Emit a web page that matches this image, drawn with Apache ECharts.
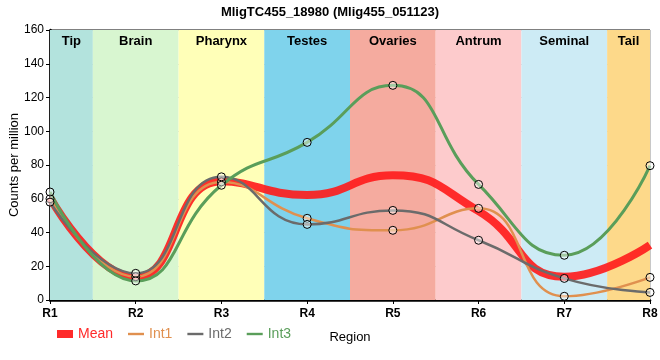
<!DOCTYPE html>
<html><head><meta charset="utf-8">
<script src="https://cdn.jsdelivr.net/npm/echarts@6/dist/echarts.min.js"></script>
<style>html,body{margin:0;padding:0;background:#fff}#c{width:660px;height:360px}</style>
</head><body><div id="c"></div>
<script>
const regions = ['R1','R2','R3','R4','R5','R6','R7','R8'];
const bandNames = ['Tip','Brain','Pharynx','Testes','Ovaries','Antrum','Seminal','Tail'];
const bandColors = ['#b3e3dd','#d8f6d0','#ffffb8','#7fd3ec','#f5ab9f','#fdcbcc','#cdebf5','#fdd98a'];
const int1 = [60, 13.8, 70, 48.4, 41.3, 54.3, 2.2, 13.4];
const int2 = [58, 15.8, 73, 44.8, 53.1, 35.4, 12.8, 4.5];
const int3 = [64, 11.3, 68, 93.4, 127.2, 68.5, 26.5, 79.6];
const meanVals = [60.7, 13.6, 70.3, 62.2, 73.9, 52.7, 13.8, 32.5];
const yTicks = [0,20,40,60,80,100,120,140,160];

const toXY = arr => arr.map((v,i)=>[i+1, v]);
const bands = bandNames.map((n,i)=>[
  {name:n, xAxis: Math.max(1, i+0.5), itemStyle:{color:bandColors[i]}},
  {xAxis: Math.min(8, i+1.5)}
]);
const FONT = 'Liberation Sans, Arial';
const C1 = '#e0904f', C2 = '#6b6b6b', C3 = '#5a9e5a', CM = '#ff2a2a';
const dot = () => ({color:'rgba(255,255,255,0.45)', borderColor:'#000', borderWidth:1});
const lineIcon = 'path://M0,0H20V3H0Z';
const chart = echarts.init(document.getElementById('c'));
chart.setOption({
  animation:false,
  title:{text:'MligTC455_18980 (Mlig455_051123)', left:'center', top:1,
    textStyle:{fontFamily:FONT, fontSize:13, fontWeight:'bold', color:'#000'}},
  grid:{left:50, right:10, top:30, bottom:60, outerBoundsMode:'none', containLabel:false,
    show:true, borderColor:'#000', borderWidth:1, backgroundColor:'transparent'},
  legend:{left:52, top:322, itemWidth:16, itemHeight:8, itemGap:15, itemTextGap:4,
    textStyle:{fontFamily:FONT, fontSize:14},
    data:[
      {name:'Mean', icon:'rect', itemStyle:{color:CM, borderWidth:0}, textStyle:{color:CM}},
      {name:'Int1', icon:lineIcon, itemStyle:{color:C1, borderWidth:0}, textStyle:{color:C1}},
      {name:'Int2', icon:lineIcon, itemStyle:{color:C2, borderWidth:0}, textStyle:{color:C2}},
      {name:'Int3', icon:lineIcon, itemStyle:{color:C3, borderWidth:0}, textStyle:{color:C3}}
    ]},
  xAxis:{type:'value', min:1, max:8, interval:1,
    name:'Region', nameLocation:'middle', nameGap:31, nameMoveOverlap:false,
    nameTextStyle:{fontFamily:FONT, fontSize:13, color:'#000'},
    axisLine:{lineStyle:{color:'#000', width:2.5}},
    axisTick:{show:true, length:4, lineStyle:{color:'#000'}},
    axisLabel:{formatter:v=>regions[v-1], color:'#000', fontSize:12, fontWeight:'bold', fontFamily:FONT, margin:8},
    splitLine:{show:true, lineStyle:{color:'#c8c8c8', width:1}}},
  yAxis:{type:'value', min:yTicks[0], max:yTicks[yTicks.length-1], interval:20,
    name:'Counts per million', nameLocation:'middle', nameGap:29, nameMoveOverlap:false,
    nameTextStyle:{fontFamily:FONT, fontSize:13, color:'#000'},
    axisLine:{show:true, lineStyle:{color:'#000', width:2.5}},
    axisTick:{show:true, length:4, lineStyle:{color:'#000'}},
    axisLabel:{color:'#000', fontSize:12, fontFamily:FONT, margin:6},
    splitLine:{show:true, lineStyle:{color:'#c8c8c8', width:1}}},
  series:[
    {name:'bands', type:'line', data:[], silent:true,
      markArea:{silent:true, label:{show:true, position:'insideTop', distance:5, color:'#000', fontWeight:'bold', fontSize:13, fontFamily:FONT},
        data:bands}},
    {name:'Mean', type:'line', data:toXY(meanVals), smooth:0.5, showSymbol:false, z:3,
      itemStyle:{color:CM}, lineStyle:{color:'#ff1a1a', width:8, opacity:0.9}},
    {name:'Int1', type:'line', data:toXY(int1), smooth:0.5, z:4, symbol:'circle', symbolSize:8,
      itemStyle:dot(), lineStyle:{color:C1, width:2.5}},
    {name:'Int2', type:'line', data:toXY(int2), smooth:0.5, z:4, symbol:'circle', symbolSize:8,
      itemStyle:dot(), lineStyle:{color:C2, width:2.5}},
    {name:'Int3', type:'line', data:toXY(int3), smooth:0.5, z:4, symbol:'circle', symbolSize:8,
      itemStyle:dot(), lineStyle:{color:C3, width:3}}
  ]
});
</script></body></html>
